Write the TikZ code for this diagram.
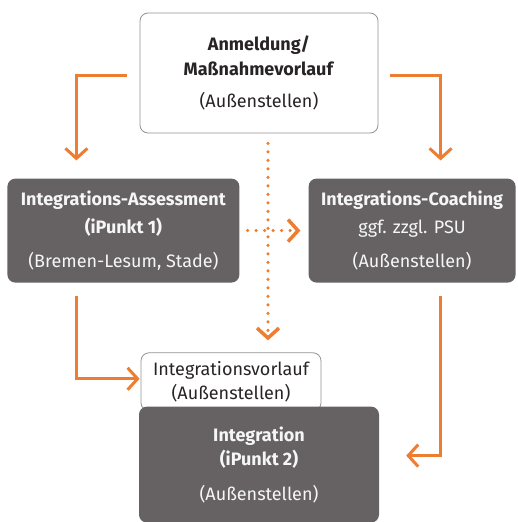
\documentclass[tikz,border=0pt]{standalone}
\usepackage{fontspec}
\setmainfont{Fira Sans}
\usepackage{tikz}
\usetikzlibrary{arrows.meta,positioning}
\definecolor{ipOrange}{RGB}{237,125,49}
\definecolor{ipGray}{RGB}{102,98,99}
\definecolor{ipText}{RGB}{40,36,37}

\begin{document}
\begin{tikzpicture}[x=1pt,y=1pt,>={Straight Barb[length=10pt,width=22pt]},
                    font=\fontsize{18}{25}\selectfont]
  \tikzstyle{lightbox}=[draw=gray!85,fill=white,rounded corners=8pt,align=center,
                        text=ipText,line width=0.8pt,inner sep=0pt]
  \tikzstyle{darkbox}=[fill=ipGray,rounded corners=8pt,align=center,
                       text=white!94!ipGray,minimum height=104pt,inner sep=0pt]
  \tikzstyle{flow}=[->,draw=ipOrange,line width=3pt]
  \tikzstyle{dots}=[->,draw=ipOrange,line width=3.5pt,line cap=round,
                    dash pattern=on 0pt off 8.5pt]

  \useasboundingbox (0,0) rectangle (517,-522);

  \node[lightbox,minimum width=238pt,minimum height=120pt] (T) at (259,-73)
      {\textbf{Anmeldung/}\\\textbf{Maßnahmevorlauf}\\[7pt](Außenstellen)};
  \node[darkbox,minimum width=232pt] (L) [below left=45pt and -100pt of T]
      {\textbf{Integrations-Assessment}\\[3pt]\textbf{(iPunkt 1)}\\[9pt](Bremen-Lesum, Stade)};
  \node[darkbox,minimum width=207pt] (R) [below right=45pt and -70pt of T]
      {\textbf{Integrations-Coaching}\\[3pt]ggf. zzgl. PSU\\[9pt](Außenstellen)};
  \node[lightbox,minimum width=180pt,minimum height=58pt] (V)
      [below=219pt of T,xshift=-28pt]
      {Integrationsvorlauf\\[-1pt](Außenstellen)};
  \node[darkbox,minimum width=240pt,minimum height=116pt] (I) [below=273pt of T]
      {\textbf{Integration}\\[-1pt]\textbf{(iPunkt 2)}\\[10pt](Außenstellen)};

  \draw[flow,shorten <=13pt,shorten >=18pt] ([yshift=-2pt]T.west) -| ([xshift=-47pt]L.north);
  \draw[flow,shorten <=12pt,shorten >=18pt] ([yshift=-2pt]T.east) -| ([xshift=28.5pt]R.north);
  \draw[dots,shorten <=10pt,shorten >=12pt] ([xshift=9pt]T.south)
      -- ([xshift=9pt]T.south |- V.north);
  \draw[dots,shorten <=8pt,shorten >=8pt] (L.east) -- (R.west);
  \draw[flow,shorten <=13pt,shorten >=1pt] ([xshift=-47pt]L.south) |- ([yshift=3pt]V.west);
  \draw[flow,shorten <=13pt,shorten >=27pt] ([xshift=28.5pt]R.south) |- ([yshift=9pt]I.east);
\end{tikzpicture}
\end{document}
